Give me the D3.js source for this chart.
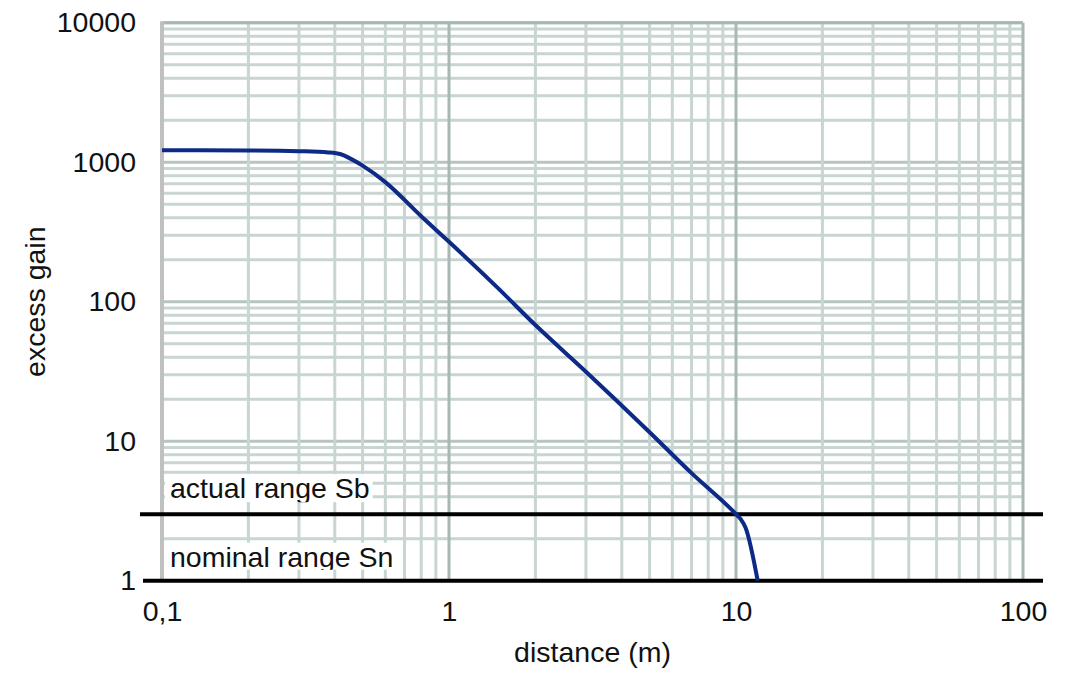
<!DOCTYPE html>
<html>
<head>
<meta charset="utf-8">
<script src="https://cdn.jsdelivr.net/npm/d3@7"></script>
<style>
  body { margin: 0; background: #fff; }
  svg text { font-family: "Liberation Sans", Arial, sans-serif; fill: #111; }
</style>
</head>
<body>
<div id="chart"></div>
<script>
// distance (m) vs excess gain
const distances = [0.1, 0.2, 0.3, 0.38, 0.42, 0.45, 0.5, 0.6, 0.8, 1, 1.5, 2, 3, 5, 7, 10, 10.4, 10.8, 11.9];
const gains = [1220, 1215, 1200, 1175, 1140, 1070, 945, 720, 410, 269, 122, 68, 31.5, 11.6, 5.9, 3.0, 2.75, 2.4, 1.0];

const xTicks = [0.1, 1, 10, 100];
const xTickLabels = ["0,1", "1", "10", "100"];
const yTicks = [1, 10, 100, 1000, 10000];
const yTickLabels = ["1", "10", "100", "1000", "10000"];

// the two range levels
const rangeLevels = [3, 1];
const rangeLabels = ["actual range Sb", "nominal range Sn"];

const width = 1078, height = 699;
const margin = { top: 22.7, right: 55, bottom: 118.3, left: 162 };
const fontSize = 28.5;

const svg = d3.select("#chart").append("svg")
    .attr("width", width)
    .attr("height", height);

const x = d3.scaleLog()
    .domain([0.1, 100])
    .range([margin.left, width - margin.right]);

const y = d3.scaleLog()
    .domain([1, 10000])
    .range([height - margin.bottom, margin.top]);

// grid values: 1..9 times every decade
function gridValues(lo, hi) {
    let out = [];
    for (let d = lo; d < hi; d *= 10) {
        for (let m = 1; m <= 9; m++) out.push({ v: d * m, major: m === 1 });
    }
    out.push({ v: hi, major: true });
    return out;
}

const grid = svg.append("g").attr("class", "grid");

grid.selectAll(".hgrid")
    .data(gridValues(1, 10000))
    .join("line")
    .attr("class", "hgrid")
    .attr("x1", x.range()[0])
    .attr("x2", x.range()[1])
    .attr("y1", d => y(d.v))
    .attr("y2", d => y(d.v))
    .attr("stroke", d => d.major ? "#b6c5c2" : "#c8d5d2")
    .attr("stroke-width", 3);

grid.selectAll(".vgrid")
    .data(gridValues(0.1, 100))
    .join("line")
    .attr("class", "vgrid")
    .attr("x1", d => x(d.v))
    .attr("x2", d => x(d.v))
    .attr("y1", y.range()[1])
    .attr("y2", y.range()[0])
    .attr("stroke", d => d.major ? "#a8b8b5" : "#c8d5d2")
    .attr("stroke-width", 3);

// frame: top darker, left gray
svg.append("line")
    .attr("x1", x.range()[0]).attr("x2", x.range()[1])
    .attr("y1", y(10000)).attr("y2", y(10000))
    .attr("stroke", "#a8b8b5").attr("stroke-width", 3);
svg.append("line")
    .attr("x1", x(0.1)).attr("x2", x(0.1))
    .attr("y1", y(10000) - 1.5).attr("y2", y(1))
    .attr("stroke", "#c0c0c0").attr("stroke-width", 4);

// range labels with white box behind them
const labelGroup = svg.append("g");
rangeLevels.forEach((lv, i) => {
    const baseY = i === 0 ? y(lv) - 16 : y(lv) - 14;
    const g = labelGroup.append("g");
    const t = g.append("text")
        .attr("x", x(0.1) + 8)
        .attr("y", baseY)
        .attr("font-size", fontSize)
        .text(rangeLabels[i]);
    const bb = t.node().getBBox();
    const clipId = "clip" + i;
    const boxH = baseY + (i === 0 ? 4 : 3) - bb.y - 2;
    svg.append("clipPath").attr("id", clipId)
        .append("rect")
        .attr("x", bb.x - 5).attr("y", bb.y + 2)
        .attr("width", bb.width + 8).attr("height", boxH);
    g.insert("rect", "text")
        .attr("x", bb.x - 5).attr("y", bb.y + 2)
        .attr("width", bb.width + 8).attr("height", boxH)
        .attr("fill", "#fff");
    t.attr("clip-path", `url(#${clipId})`);
});

// range lines
svg.selectAll(".range-line")
    .data(rangeLevels)
    .join("line")
    .attr("class", "range-line")
    .attr("x1", (d, i) => x.range()[0] - (i === 0 ? 22 : 19))
    .attr("x2", x.range()[1] + 20)
    .attr("y1", d => y(d))
    .attr("y2", d => y(d))
    .attr("stroke", "#000")
    .attr("stroke-width", 4);

// curve
const line = d3.line()
    .x((d, i) => x(distances[i]))
    .y(d => y(d))
    .curve(d3.curveMonotoneX);

svg.append("path")
    .datum(gains)
    .attr("d", line)
    .attr("fill", "none")
    .attr("stroke", "#0c2a86")
    .attr("stroke-width", 4)
    .attr("stroke-linejoin", "round");

// axes (labels only)
const xAxis = d3.axisBottom(x)
    .tickValues(xTicks)
    .tickFormat((d, i) => xTickLabels[i])
    .tickSize(0)
    .tickPadding(20);

svg.append("g")
    .attr("class", "x-axis")
    .attr("transform", `translate(0, ${y.range()[0]})`)
    .call(xAxis)
    .call(g => g.select(".domain").remove())
    .selectAll("text")
    .attr("font-size", fontSize)
    .attr("fill", "#111");

const yAxis = d3.axisLeft(y)
    .tickValues(yTicks)
    .tickFormat((d, i) => yTickLabels[i])
    .tickSize(0)
    .tickPadding(26);

svg.append("g")
    .attr("class", "y-axis")
    .attr("transform", `translate(${x.range()[0]}, 0)`)
    .call(yAxis)
    .call(g => g.select(".domain").remove())
    .selectAll("text")
    .attr("font-size", fontSize)
    .attr("fill", "#111");

svg.selectAll(".x-axis text, .y-axis text").style("font-family", "'Liberation Sans', Arial, sans-serif");

// axis titles
svg.append("text")
    .attr("x", (x.range()[0] + x.range()[1]) / 2)
    .attr("y", 662)
    .attr("text-anchor", "middle")
    .attr("font-size", fontSize)
    .text("distance (m)");

svg.append("text")
    .attr("transform", `translate(45, ${(y.range()[0] + y.range()[1]) / 2}) rotate(-90)`)
    .attr("text-anchor", "middle")
    .attr("font-size", fontSize)
    .text("excess gain");
</script>
</body>
</html>
